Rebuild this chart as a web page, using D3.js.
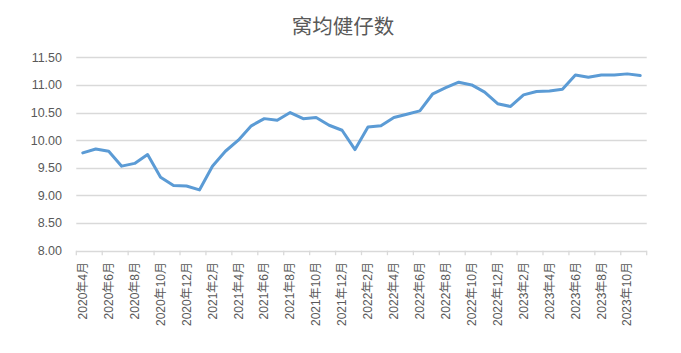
<!DOCTYPE html>
<html><head><meta charset="utf-8">
<script src="https://cdn.jsdelivr.net/npm/d3@7"></script>
<style>body{margin:0;background:#fff}svg{display:block}</style>
</head><body>
<svg id="c" width="681" height="353"></svg>
<script>
const title = "窝均健仔数";
const months = [];
for (let y = 2020, m = 4; months.length < 44; ) { months.push(y + "年" + m + "月"); m++; if (m > 12) { m = 1; y++; } }
const values = [9.77, 9.84, 9.80, 9.53, 9.58, 9.74, 9.33, 9.18, 9.17, 9.10,
  9.53, 9.80, 10.00, 10.26, 10.39, 10.36, 10.50, 10.39, 10.41, 10.27,
  10.18, 9.83, 10.24, 10.26, 10.41, 10.47, 10.53, 10.84, 10.95, 11.05,
  11.00, 10.87, 10.66, 10.61, 10.82, 10.88, 10.89, 10.92, 11.18, 11.14,
  11.18, 11.18, 11.20, 11.17];
const yTicks = [8.0, 8.5, 9.0, 9.5, 10.0, 10.5, 11.0, 11.5];

const svg = d3.select("#c");
const L = 76.3, R = 646.7, T = 57.3, B = 250.7;
const x = d3.scaleBand().domain(months).range([L, R]);
const y = d3.scaleLinear().domain([8, 11.5]).range([B, T]);
const txt = "#595959", grid = "#d9d9d9";
const font = "'Liberation Sans', 'Noto Sans CJK SC', sans-serif";

svg.append("text").attr("x", 343).attr("y", 34).attr("text-anchor", "middle")
  .attr("font-family", "'Noto Sans CJK SC', sans-serif").attr("font-size", 20.5)
  .attr("fill", txt).text(title);

// grid
svg.append("g").selectAll("line").data(yTicks.slice(1)).join("line")
  .attr("x1", L).attr("x2", R).attr("y1", d => Math.round(y(d)) + 0.5).attr("y2", d => Math.round(y(d)) + 0.5)
  .attr("stroke", grid).attr("stroke-width", 1.3);

// y labels
svg.append("g").selectAll("text").data(yTicks).join("text")
  .attr("x", 62).attr("y", d => y(d)).attr("dy", "0.35em").attr("text-anchor", "end")
  .attr("font-family", font).attr("font-size", 12.5).attr("fill", txt)
  .text(d => d3.format(".2f")(d));

// x axis
const xa = svg.append("g");
xa.append("line").attr("x1", L).attr("x2", R).attr("y1", Math.round(B) + 0.5).attr("y2", Math.round(B) + 0.5)
  .attr("stroke", grid).attr("stroke-width", 1.3);
const tickPos = months.filter((d, i) => i % 2 === 0).map(d => x(d)).concat([R]);
xa.selectAll("line.t").data(tickPos).join("line").attr("class", "t")
  .attr("x1", d => d).attr("x2", d => d).attr("y1", B).attr("y2", B + 4.5)
  .attr("stroke", grid).attr("stroke-width", 1.3);
xa.selectAll("text").data(months.filter((d, i) => i % 2 === 0)).join("text")
  .attr("transform", d => `translate(${x(d) + x.bandwidth() / 2},${262}) rotate(-90)`)
  .attr("text-anchor", "end").attr("dy", "0.35em")
  .attr("font-family", font).attr("font-size", 12).attr("fill", txt)
  .text(d => d);

// line
const line = d3.line().x((d, i) => x(months[i]) + x.bandwidth() / 2).y(d => y(d));
svg.append("path").datum(values).attr("d", line).attr("fill", "none")
  .attr("stroke", "#5b9bd5").attr("stroke-width", 3).attr("stroke-linejoin", "round").attr("stroke-linecap", "round");
</script>
</body></html>
